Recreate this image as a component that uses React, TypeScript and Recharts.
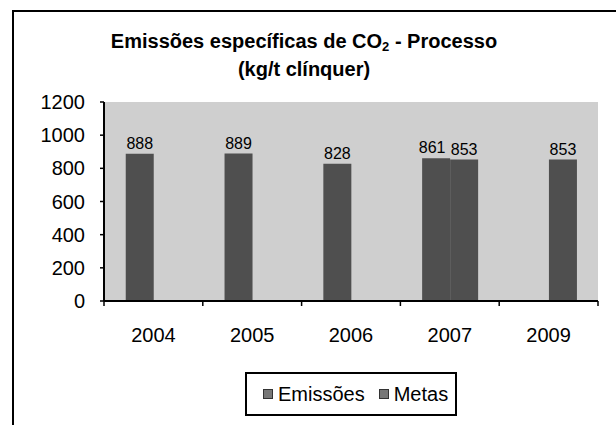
import React from 'react';
import {
  BarChart,
  Bar,
  XAxis,
  YAxis,
  Legend,
  CartesianGrid,
} from 'recharts';

const years = ['2004', '2005', '2006', '2007', '2009'];
const emissoes = [888, 889, 828, 861, null];
const metas = [null, null, null, 853, 853];
const yTicks = [0, 200, 400, 600, 800, 1000, 1200];

const data = years.map((year, i) => ({
  year,
  Emissões: emissoes[i],
  Metas: metas[i],
}));

const FONT = '"Liberation Sans", Arial, sans-serif';
const TICK_SIZE = 5;
const TICK_MARGIN = 22;

// year label + boundary tick marks (Excel puts ticks between categories)
function YearTick(props: any) {
  const { x, y, payload, index, visibleTicksCount } = props;
  const half = payload?.offset ?? 0;
  const axisY = y - TICK_SIZE - TICK_MARGIN;
  return (
    <g>
      <line x1={x - half} x2={x - half} y1={axisY} y2={axisY + TICK_SIZE} stroke="#000" strokeWidth={1.5} />
      {index === visibleTicksCount - 1 && (
        <line x1={x + half} x2={x + half} y1={axisY} y2={axisY + TICK_SIZE} stroke="#000" strokeWidth={1.5} />
      )}
      <text x={x} y={y} dy="0.71em" textAnchor="middle" fontSize={20} fill="#000" fontFamily={FONT}>
        {payload.value}
      </text>
    </g>
  );
}

// value above bar; when both series share a year, nudge the labels apart like Excel did
function makeValueLabel(shift: number) {
  return function ValueLabel(props: any) {
    const { x, y, width, value, index } = props;
    if (value == null) return null;
    const both = emissoes[index] != null && metas[index] != null;
    return (
      <text
        x={x + width / 2 + (both ? shift : 0)}
        y={y - 5}
        textAnchor="middle"
        fontSize={16}
        fill="#000"
        fontFamily={FONT}
      >
        {value}
      </text>
    );
  };
}

function LegendBox(props: any) {
  const { payload = [] } = props;
  return (
    <div
      style={{
        marginLeft: 245,
        width: 212,
        height: 44,
        boxSizing: 'border-box',
        border: '2px solid #000',
        background: '#fff',
        display: 'flex',
        alignItems: 'center',
        paddingLeft: 16,
        fontFamily: FONT,
        fontSize: 20,
        color: '#000',
      }}
    >
      {payload.map((p: any, i: number) => (
        <span key={p.value} style={{ display: 'flex', alignItems: 'center', marginRight: i === 0 ? 14 : 0 }}>
          <span style={{ width: 8, height: 8, background: '#777', border: '1px solid #333', marginRight: 5 }} />
          {p.value}
        </span>
      ))}
    </div>
  );
}

export default function App() {
  return (
    <div style={{ position: 'absolute', left: 0, top: 0, width: 616, height: 425, background: '#fff', overflow: 'hidden' }}>
      <div
        style={{
          position: 'absolute',
          left: 12,
          top: 10,
          width: 640,
          height: 440,
          borderLeft: '2px solid #000',
          borderTop: '2px solid #000',
        }}
      />
      <div
        style={{
          position: 'absolute',
          left: 0,
          top: 30,
          width: 608,
          textAlign: 'center',
          fontFamily: FONT,
          fontWeight: 'bold',
          fontSize: 20,
          lineHeight: '22px',
          color: '#000',
          zIndex: 2,
        }}
      >
        <div>
          Emissões específicas de CO<span style={{ fontSize: 13, verticalAlign: -3 }}>2</span> - Processo
        </div>
        <div>(kg/t clínquer)</div>
      </div>
      <div style={{ position: 'absolute', left: 0, top: 0 }}>
        <BarChart
          width={616}
          height={425}
          data={data}
          margin={{ top: 102, right: 18, left: 44, bottom: 20 }}
          barCategoryGap="22%"
          barGap={0}
        >
          <CartesianGrid fill="#cfcfcf" horizontal={false} vertical={false} />
          <XAxis
            dataKey="year"
            height={60}
            tickLine={false}
            tickSize={TICK_SIZE}
            tickMargin={TICK_MARGIN}
            tick={<YearTick />}
            axisLine={{ stroke: '#000', strokeWidth: 2 }}
            interval={0}
          />
          <XAxis
            xAxisId="top"
            dataKey="year"
            orientation="top"
            height={0}
            tick={false}
            tickLine={false}
            axisLine={{ stroke: '#000', strokeWidth: 1.5 }}
          />
          <YAxis
            domain={[0, 1200]}
            ticks={yTicks}
            width={60}
            tickSize={4}
            tickMargin={15}
            tick={{ fontSize: 20, fill: '#000', fontFamily: FONT }}
            tickLine={{ stroke: '#000', strokeWidth: 1.5 }}
            axisLine={{ stroke: '#000', strokeWidth: 2 }}
            interval={0}
          />
          <YAxis
            yAxisId="right"
            orientation="right"
            domain={[0, 1200]}
            width={0}
            tick={false}
            tickLine={false}
            axisLine={{ stroke: '#000', strokeWidth: 1.5 }}
          />
          <Legend
            verticalAlign="bottom"
            content={<LegendBox />}
            wrapperStyle={{ left: 0, width: 616, bottom: 9 }}
          />
          <Bar dataKey="Emissões" fill="#4f4f4f" isAnimationActive={false} label={makeValueLabel(-4)} />
          <Bar dataKey="Metas" fill="#4f4f4f" isAnimationActive={false} label={makeValueLabel(6)} />
        </BarChart>
      </div>
    </div>
  );
}
